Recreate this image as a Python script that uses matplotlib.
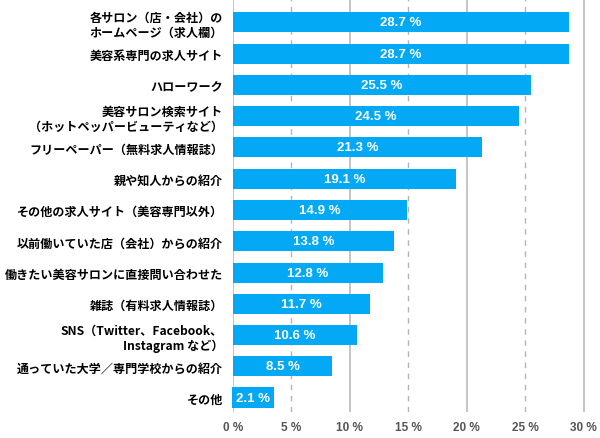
import numpy as np
import matplotlib.pyplot as plt

plt.rcParams['font.family'] = ['Noto Sans CJK JP', 'DejaVu Sans']

labels = [
    "各サロン（店・会社）の\nホームページ（求人欄）",
    "美容系専門の求人サイト",
    "ハローワーク",
    "美容サロン検索サイト\n（ホットペッパービューティなど）",
    "フリーペーパー（無料求人情報誌）",
    "親や知人からの紹介",
    "その他の求人サイト（美容専門以外）",
    "以前働いていた店（会社）からの紹介",
    "働きたい美容サロンに直接問い合わせた",
    "雑誌（有料求人情報誌）",
    "SNS（Twitter、Facebook、\nInstagram など）",
    "通っていた大学／専門学校からの紹介",
    "その他",
]
values = [28.7, 28.7, 25.5, 24.5, 21.3, 19.1, 14.9, 13.8, 12.8, 11.7, 10.6, 8.5, 2.1]
ticks = [0, 5, 10, 15, 20, 25, 30]

bar_color = '#03a9f4'

fig = plt.figure(figsize=(6, 4.39), dpi=100)
ax = fig.add_axes([0.388, 0.06, 0.587, 0.94])

y = np.arange(len(values))
# grid lines: solid at 0/10/20/30, dashed at 5/15/25
for t in ticks:
    if t % 10 == 0:
        ax.axvline(t, color='#b4b4b4', lw=1.1, zorder=0)
    else:
        ax.axvline(t, color='#b4b4b4', lw=1.0, ls=(0, (4, 4)), zorder=0)

ax.barh(y, values, height=0.64, color=bar_color, zorder=2)
for yi, v in zip(y, values):
    if v > 5:
        ax.text(v / 2, yi, f"{v} %", color='white', fontsize=9.5, fontweight='bold',
                ha='center', va='center', family=['Liberation Sans', 'DejaVu Sans'], zorder=3)
    else:
        # label wider than the bar: put it on a box of the bar colour
        ax.text(0.25, yi, f"{v} %", color='white', fontsize=9.5, fontweight='bold',
                ha='left', va='center', family=['Liberation Sans', 'DejaVu Sans'], zorder=3,
                bbox=dict(boxstyle='square,pad=0.32', fc=bar_color, ec='none'))

ax.set_xlim(0, 30.1)
ax.set_ylim(12.45, -0.75)
ax.set_yticks(y)
ax.set_yticklabels(labels, fontsize=8.7, fontweight='bold', linespacing=1.2)
ax.set_xticks(ticks)
ax.set_xticklabels([f"{t} %" for t in ticks], fontsize=8.5, fontweight='bold',
                   color='#555555', family=['Liberation Sans', 'DejaVu Sans'])
ax.tick_params(length=0, pad=7)
ax.tick_params(axis='x', pad=7)
for s in ax.spines.values():
    s.set_visible(False)

fig.savefig('out.png', dpi=100)
